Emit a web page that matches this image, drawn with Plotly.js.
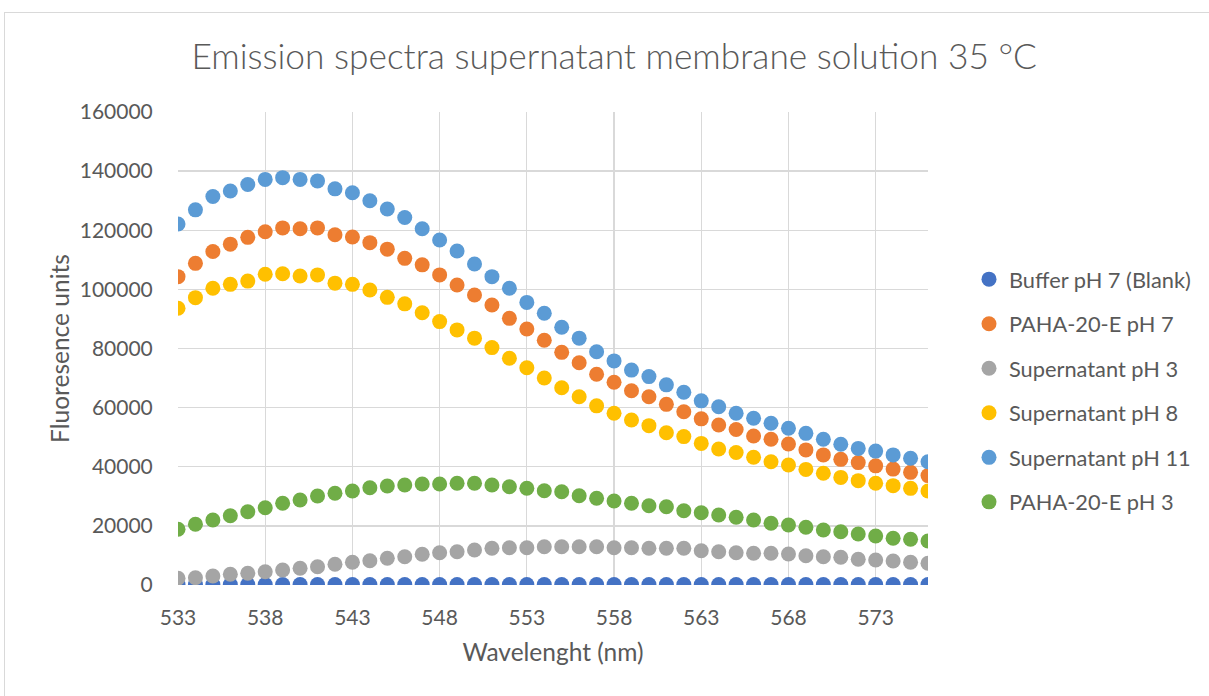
<!DOCTYPE html>
<html>
<head>
<meta charset="utf-8">
<script src="https://cdn.plot.ly/plotly-3.0.1.min.js"></script>
<style>
  html, body { margin: 0; padding: 0; width: 1209px; height: 696px; overflow: hidden; background: #ffffff; }
  #frame { position: absolute; left: 4px; top: 12px; width: 1300px; height: 800px;
           border: 1.5px solid #d9d9d9; box-sizing: border-box; pointer-events: none; }
  #chart { position: absolute; left: 0; top: 0; width: 1209px; height: 696px; }
</style>
</head>
<body>
<div id="chart"></div>
<div id="frame"></div>
<script>
// Emission wavelengths (nm)
const wavelength = [533, 534, 535, 536, 537, 538, 539, 540, 541, 542, 543, 544, 545, 546, 547,
                    548, 549, 550, 551, 552, 553, 554, 555, 556, 557, 558, 559, 560, 561, 562,
                    563, 564, 565, 566, 567, 568, 569, 570, 571, 572, 573, 574, 575, 576];

// Fluorescence intensities per sample
const bufferPH7 = [150, 140, 160, 130, 150, 170, 140, 150, 130, 160, 150, 140, 150, 160, 140,
                   150, 130, 150, 140, 160, 150, 140, 130, 150, 160, 140, 150, 130, 140, 150,
                   160, 140, 150, 130, 140, 150, 160, 140, 130, 150, 140, 150, 130, 140];

const pahaPH7 = [104300, 108800, 112800, 115300, 117600, 119500, 120800, 120500, 120800, 118500,
                 117700, 115800, 113600, 110500, 108300, 104900, 101500, 98100, 94700, 90200,
                 86600, 82800, 78700, 75200, 71300, 68600, 65700, 63700, 61100, 58600,
                 56200, 54100, 52600, 50400, 49300, 47700, 45700, 44000, 42500, 41400,
                 40300, 39200, 38100, 37000];

const supPH3 = [2270, 2470, 3050, 3620, 3960, 4500, 5080, 5650, 6190, 7000,
                7680, 8220, 9030, 9570, 10390, 10930, 11270, 11840, 12420, 12620,
                12620, 12960, 12960, 12960, 12960, 12620, 12620, 12420, 12420, 12420,
                11600, 11270, 10930, 10720, 10720, 10490, 9910, 9570, 9370, 8690,
                8460, 8120, 7680, 7340];

const supPH8 = [93600, 97200, 100400, 101700, 102800, 105100, 105300, 104500, 104900, 102100,
                101700, 99800, 97300, 95100, 92100, 89100, 86300, 83500, 80300, 76700,
                73500, 70000, 66700, 63700, 60600, 58100, 55800, 53900, 51500, 50200,
                47900, 46000, 44800, 43200, 41700, 40600, 39100, 37800, 36400, 35300,
                34400, 33600, 32700, 31800];

const supPH11 = [122100, 126900, 131400, 133300, 135500, 137200, 137800, 137200, 136700, 134000,
                 132700, 130000, 127200, 124300, 120500, 116700, 113000, 108600, 104300, 100400,
                 95600, 91900, 87200, 83500, 78900, 75800, 72700, 70500, 67700, 65200,
                 62300, 60300, 58100, 56400, 54700, 53000, 51300, 49300, 47600, 46200,
                 45300, 44000, 42900, 41700];

const pahaPH3 = [18840, 20540, 21990, 23440, 24800, 26150, 27640, 28760, 30110, 31020,
                 31800, 32920, 33490, 33830, 34170, 34170, 34410, 34410, 33830, 33260,
                 32710, 31900, 31560, 30210, 29330, 28420, 27640, 26830, 26490, 25140,
                 24460, 23680, 22900, 21990, 20870, 20300, 19520, 18610, 18030, 17250,
                 16580, 15800, 15460, 14890];

const seriesNames = ['Buffer pH 7 (Blank)', 'PAHA-20-E pH 7', 'Supernatant pH 3',
                     'Supernatant pH 8', 'Supernatant pH 11', 'PAHA-20-E pH 3'];
const seriesValues = [bufferPH7, pahaPH7, supPH3, supPH8, supPH11, pahaPH3];
const seriesColors = ['#4472C4', '#ED7D31', '#A5A5A5', '#FFC000', '#5B9BD5', '#70AD47'];

const xTicks = [533, 538, 543, 548, 553, 558, 563, 568, 573];
const yTicks = [0, 20000, 40000, 60000, 80000, 100000, 120000, 140000, 160000];

const FONT = 'Lato, "Open Sans", sans-serif';
const TEXT = '#595959';
const GRID = '#d9d9d9';

const traces = seriesNames.map((name, i) => ({
  type: 'scatter',
  mode: 'markers',
  name: name,
  legendgroup: 'g' + i,
  x: wavelength,
  y: seriesValues[i],
  marker: { color: seriesColors[i], size: 15, line: { width: 0 } },
  hoverinfo: 'x+y+name'
}));

const layout = {
  width: 1209,
  height: 696,
  paper_bgcolor: 'rgba(0,0,0,0)',
  plot_bgcolor: '#ffffff',
  margin: { l: 178, r: 281, t: 112, b: 111 },
  font: { family: FONT, color: TEXT, size: 21 },
  title: {
    text: 'Emission spectra supernatant membrane solution 35 °C',
    font: { family: FONT, size: 35.3, color: TEXT, weight: 300 },
    xref: 'container', x: 0.508, xanchor: 'center',
    yref: 'container', y: 1 - 57 / 696, yanchor: 'middle'
  },
  xaxis: {
    range: [533, 576],
    tickmode: 'array',
    tickvals: xTicks,
    ticktext: xTicks.map(String),
    showgrid: true,
    gridcolor: GRID,
    gridwidth: 1.3,
    zeroline: false,
    showline: false,
    ticks: 'outside',
    ticklen: 14,
    tickcolor: 'rgba(0,0,0,0)',
    tickfont: { family: FONT, size: 21, color: TEXT },
    title: { text: 'Wavelenght (nm)', font: { family: FONT, size: 24.5, color: TEXT }, standoff: 15 }
  },
  yaxis: {
    range: [0, 160000],
    tickmode: 'array',
    tickvals: yTicks,
    ticktext: yTicks.map(String),
    showgrid: true,
    gridcolor: GRID,
    gridwidth: 1.3,
    zeroline: false,
    showline: false,
    ticks: 'outside',
    ticklen: 20,
    tickcolor: 'rgba(0,0,0,0)',
    tickfont: { family: FONT, size: 21, color: TEXT },
    title: { text: 'Fluoresence units', font: { family: FONT, size: 24.5, color: TEXT }, standoff: 3 }
  },
  showlegend: true,
  legend: {
    xref: 'container', yref: 'container',
    x: 969 / 1209, xanchor: 'left',
    y: 1 - 391 / 696, yanchor: 'middle',
    font: { family: FONT, size: 21.8, color: TEXT },
    tracegroupgap: 13.2,
    bgcolor: 'rgba(0,0,0,0)',
    itemsizing: 'trace'
  }
};

Plotly.newPlot('chart', traces, layout, { staticPlot: true, displayModeBar: false });
</script>
</body>
</html>
